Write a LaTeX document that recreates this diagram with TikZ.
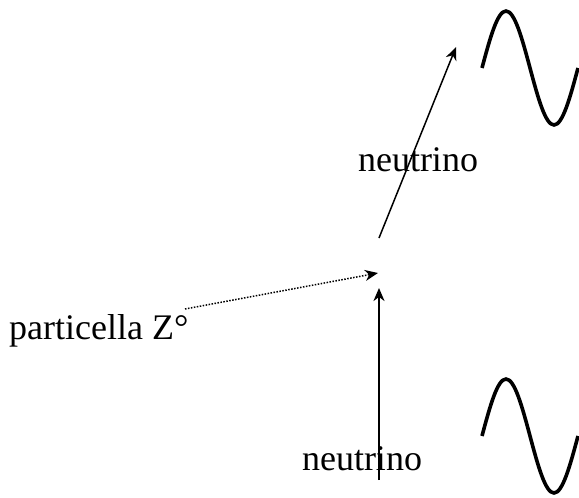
\documentclass[tikz,border=0pt]{standalone}
\usepackage{fontspec}
\setmainfont{Liberation Serif}
\usepackage{tikz}
\usetikzlibrary{arrows.meta}

\begin{document}
\begin{tikzpicture}[x=1pt,y=-1pt,
    label/.style={font=\fontsize{36}{40}\selectfont,inner sep=0pt},
    wave/.style={line width=3.6pt},
    track/.style={line width=1.5pt,-{Stealth[length=13pt,width=11pt,inset=4pt]}}]
    \useasboundingbox (0,0) rectangle (579,498);
    \coordinate (v1) at (379,480);
    \coordinate (v2) at (379,288);
    \coordinate (v3) at (379,238);
    \coordinate (v4) at (456,47);
    \coordinate (z1) at (185,309);
    \coordinate (z2) at (378,273);
    \node[label] (n1) at (418,160) {neutrino};
    \node[label] (n2) at (362,459) {neutrino};
    \node[label,anchor=west] (z) at (9,331) {particella Z°};
    \draw[track] (v1) -- (v2);
    \draw[track] (v3) -- (v4);
    \draw[track,dash pattern=on 1.5pt off 1.5pt] (z1) -- (z2);
    \draw[wave] (482,68) sin (506,11) cos (530,68) sin (554,125) cos (578,68);
    \draw[wave] (482,436) sin (506,379) cos (530,436) sin (554,493) cos (578,436);
\end{tikzpicture}
\end{document}
